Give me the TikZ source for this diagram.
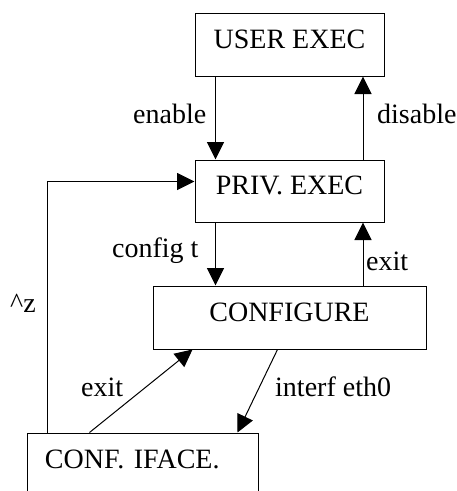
\documentclass[tikz,border=0pt]{standalone}
\usepackage{fontspec}
\setmainfont{Liberation Serif}
\usetikzlibrary{arrows.meta}
\begin{document}
\begin{tikzpicture}[x=1pt,y=-1pt,
  every node/.style={font=\fontsize{28}{34}\selectfont},
  box/.style={draw,line width=1pt,rectangle,inner sep=0pt,text height=19pt,text depth=12pt},
  arr/.style={line width=1pt,-{Triangle[length=17.5pt,width=17pt]}},
  lbl/.style={inner sep=0pt,anchor=base west}]
\useasboundingbox (0,0) rectangle (457,491);
\clip (0,0) rectangle (457,491);
\node[box,minimum width=189pt,minimum height=63pt] (user) at (289.5,44.5) {USER EXEC};
\node[box,minimum width=189pt,minimum height=62pt] (priv) at (289.5,191) {PRIV. EXEC};
\node[box,minimum width=273pt,minimum height=63pt] (conf) at (289.5,317.5) {CONFIGURE};
\node[box,minimum width=231pt,minimum height=64pt,text width=195pt,align=left,inner xsep=18pt] (iface) at (142.5,465) {CONF. IFACE.};
% connectors
\draw[arr] ([xshift=21pt]user.south west) -- ([xshift=21pt]priv.north west);
\draw[arr] ([xshift=-21.5pt]priv.north east) -- ([xshift=-21.5pt]user.south east);
\draw[arr] ([xshift=21pt]priv.south west) -- ([xshift=21pt]priv.south west |- conf.north);
\draw[arr] ([xshift=-21.5pt]priv.south east |- conf.north) -- ([xshift=-21.5pt]priv.south east);
\draw[arr] ([xshift=21pt]iface.north west) |- ([yshift=9.5pt]priv.west);
\draw[arr] ([xshift=63pt]iface.north west) -- ([xshift=40pt]conf.south west);
\draw[arr] ([xshift=125pt]conf.south west) -- ([xshift=-21pt]iface.north east);
% labels
\node[lbl] (lenable) at (133,123) {enable};
\node[lbl] (ldisable) at (377,123) {disable};
\node[lbl] (lconfig) at (112,257) {config t};
\node[lbl] (lexit1) at (366,270) {exit};
\node[lbl] (lz) at (10,312) {\^{}z};
\node[lbl] (lexit2) at (81,396) {exit};
\node[lbl] (linterf) at (275,396) {interf eth0};
\end{tikzpicture}
\end{document}
